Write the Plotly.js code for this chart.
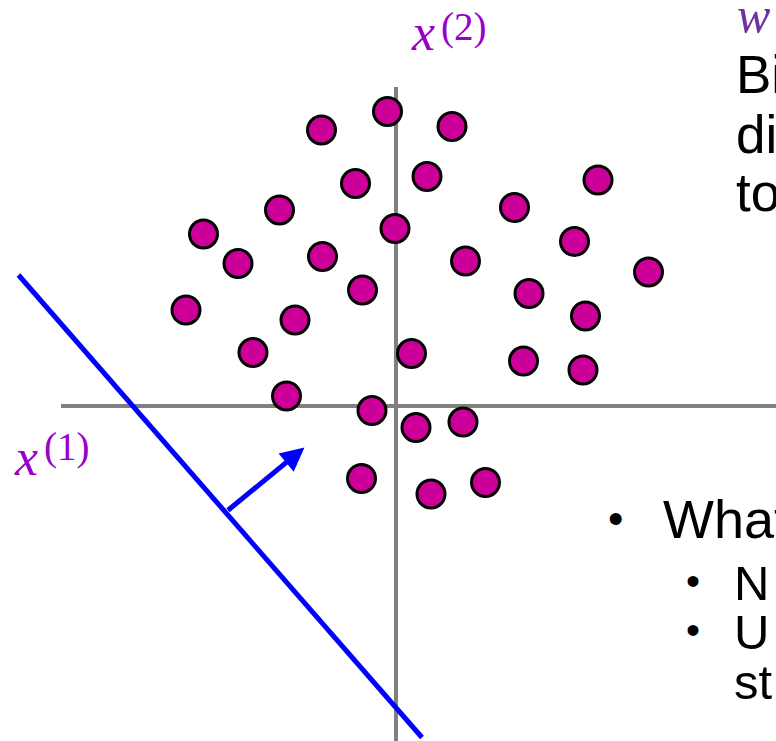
<!DOCTYPE html>
<html>
<head>
<meta charset="utf-8">
<script src="https://cdn.plot.ly/plotly-3.0.1.min.js"></script>
<style>html,body{margin:0;padding:0;background:#fff;}#chart{width:776px;height:741px;}</style>
</head>
<body>
<div id="chart"></div>
<script>
// Data points (feature x1, feature x2)
const pointsX1 = [-1.49,-0.17,1.12,-0.81,0.62,4.04,-2.33,2.37,-3.85,-0.02,3.57,-3.16,-1.47,1.39,5.05,-0.67,2.66,-4.20,-2.02,3.79,-2.86,0.31,2.55,3.74,-2.19,-0.48,0.40,1.34,-0.69,0.70,1.79];
const pointsX2 = [5.52,5.89,5.59,4.45,4.59,4.52,3.92,3.97,3.44,3.55,3.29,2.85,2.99,2.90,2.68,2.32,2.25,1.92,1.72,1.80,1.07,1.05,0.90,0.72,0.20,-0.09,-0.43,-0.32,-1.45,-1.76,-1.53];
// Coordinate axes
const hAxisX = [-6.70, 7.60];
const hAxisY = [0, 0];
const vAxisX = [0, 0];
const vAxisY = [6.38, -6.70];
// Separating line (hyperplane) and its normal vector w
const planeX = [-7.55, 0.52];
const planeY = [2.62, -6.63];
const normalTail = [-3.39, -2.11];
const normalTip = [-1.83, -0.83];
// Text
const axisVar = "<i>x</i>";
const axisIdx1 = "(1)";
const axisIdx2 = "(2)";
const wLabel = "<i>w</i>";
const rightLines = ["Bi", "di", "to"];
const bulletMain = "What";
const bulletSubs = ["N", "U"];
const subCont = "st";

const W = 776, H = 741;
const px = x => x / W;
const py = y => 1 - y / H;

const traces = [
  {x: hAxisX, y: hAxisY, mode: 'lines', line: {color: '#808080', width: 4}, hoverinfo: 'skip'},
  {x: vAxisX, y: vAxisY, mode: 'lines', line: {color: '#808080', width: 4}, hoverinfo: 'skip'},
  {x: planeX, y: planeY, mode: 'lines', line: {color: '#0000FF', width: 5}, hoverinfo: 'skip'},
  {x: pointsX1, y: pointsX2, mode: 'markers',
   marker: {size: 28, color: '#CC0099', line: {color: '#000000', width: 3}}}
];

const sans = 'Liberation Sans, Arial, sans-serif';
const serif = 'Liberation Serif, Times New Roman, serif';
const purple = '#9900CC';
const ann = [];
function txt(x, y, text, size, family, color, xanchor) {
  ann.push({xref: 'paper', yref: 'paper', x: px(x), y: py(y), xanchor: xanchor || 'left', yanchor: 'middle',
    text: text, showarrow: false, font: {family: family, size: size, color: color}});
}
// normal arrow
ann.push({x: normalTip[0], y: normalTip[1], ax: normalTail[0], ay: normalTail[1],
  xref: 'x', yref: 'y', axref: 'x', ayref: 'y', text: '', showarrow: true,
  arrowhead: 2, arrowsize: 0.95, arrowwidth: 5, arrowcolor: '#0000FF', standoff: 0});
// axis labels
txt(409, 33, axisVar, 52, serif, purple);
txt(439, 27, axisIdx2, 39, serif, purple);
txt(12, 457, axisVar, 52, serif, purple);
txt(42, 447, axisIdx1, 39, serif, purple);
txt(735, 15, wLabel, 50, serif, '#7030A0');
// right text lines
const rightCenters = [74, 134, 192];
rightLines.forEach((t, i) => txt(734, rightCenters[i], t, 53, sans, '#000'));
// bullets
txt(615, 518, '•', 44, sans, '#000', 'center');
txt(661, 519, bulletMain, 54, sans, '#000');
const subCenters = [583, 632];
bulletSubs.forEach((t, i) => {
  txt(693, subCenters[i] - 2, '•', 40, sans, '#000', 'center');
  txt(732, subCenters[i], t, 49, sans, '#000');
});
txt(732, 682, subCont, 49, sans, '#000');

const layout = {
  width: W, height: H,
  margin: {l: 0, r: 0, t: 0, b: 0, pad: 0},
  paper_bgcolor: '#ffffff', plot_bgcolor: '#ffffff',
  showlegend: false, hovermode: false,
  xaxis: {range: [-7.92, 7.60], visible: false, fixedrange: true},
  yaxis: {range: [-6.70, 8.12], visible: false, fixedrange: true},
  annotations: ann
};
Plotly.newPlot('chart', traces, layout, {staticPlot: true, displayModeBar: false});
</script>
</body>
</html>
